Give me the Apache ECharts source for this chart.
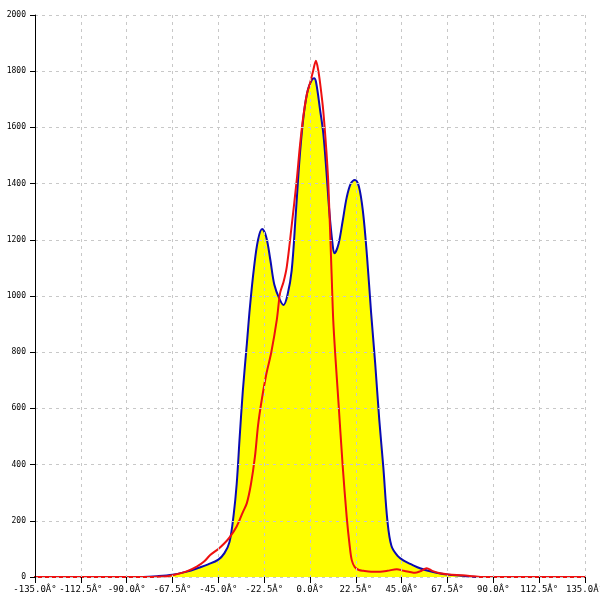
<!DOCTYPE html>
<html>
<head>
<meta charset="utf-8">
<script src="https://cdn.jsdelivr.net/npm/echarts@6/dist/echarts.min.js"></script>
<style>html,body{margin:0;padding:0;background:#fff}#c{width:600px;height:600px}</style>
</head>
<body>
<div id="c"></div>
<script>
// Tick labels (as printed in the reference, including the encoding artefact)
const xTickValues = [-135, -112.5, -90, -67.5, -45, -22.5, 0, 22.5, 45, 67.5, 90, 112.5, 135];
const xTickLabels = ["-135.0Â°", "-112.5Â°", "-90.0Â°", "-67.5Â°", "-45.0Â°", "-22.5Â°", "0.0Â°", "22.5Â°", "45.0Â°", "67.5Â°", "90.0Â°", "112.5Â°", "135.0Â°"];

// Blue (filled) series: angle in degrees, count
const blueAngles = [-85, -75, -67.5, -60, -55, -50, -45, -42, -39.5, -37.5, -36, -34.5, -33, -31, -29.5, -27.5, -25.5, -23.5, -21.5, -19.5, -17.5, -15, -13, -11, -9, -7, -5, -3, -1, 1, 2, 3, 5, 6.5, 8, 9.5, 11, 12, 14, 16, 18, 20, 22, 24, 26, 28, 30, 32, 34, 36, 38, 40, 43, 46, 50, 54, 58, 62, 66, 70, 75, 80, 84];
const blueValues = [0, 3, 8, 20, 32, 45, 62, 85, 125, 220, 330, 500, 660, 830, 960, 1100, 1200, 1238, 1210, 1130, 1040, 990, 968, 1005, 1090, 1290, 1500, 1650, 1735, 1770, 1775, 1760, 1660, 1580, 1450, 1300, 1190, 1152, 1185, 1265, 1350, 1400, 1413, 1390, 1300, 1140, 940, 760, 560, 390, 200, 110, 75, 58, 44, 31, 22, 15, 10, 7, 4, 1, 0];

// Red series: angle in degrees, count
const redAngles = [-153, -100, -85, -70, -67, -60, -55.6, -52, -49, -45, -42, -39.3, -36, -33, -31, -29, -27, -25.5, -23.7, -21.5, -19, -16.3, -14.7, -13, -11.4, -9, -6.5, -5, -3.3, -1.5, 0, 1.5, 2.9, 4, 5, 6.5, 8, 9, 10.6, 11.4, 12.5, 13.9, 16, 18, 19.5, 20.5, 22, 24, 26.2, 30, 34.4, 38, 42.6, 46, 49, 51.5, 54, 57.3, 60, 63.8, 68, 75, 80, 85, 143];
const redValues = [0, 0, 0, 3, 7, 22, 37, 55, 78, 100, 120, 143, 180, 230, 263, 330, 430, 540, 630, 720, 800, 915, 1010, 1050, 1104, 1250, 1413, 1530, 1638, 1720, 1757, 1800, 1837, 1805, 1755, 1660, 1520, 1400, 1080, 915, 780, 630, 400, 215, 110, 60, 35, 25, 22, 19, 19, 22, 28, 22, 18, 15, 20, 31, 22, 13, 9, 6, 3, 0, 0];

const pair = (xs, ys) => xs.map((x, i) => [x, ys[i]]);

const chart = echarts.init(document.getElementById('c'), null, {renderer: 'canvas'});
chart.setOption({
  animation: false,
  backgroundColor: '#ffffff',
  grid: {left: 35, right: 15, top: 15, bottom: 23, containLabel: false, outerBoundsMode: 'none'},
  xAxis: {
    type: 'value', min: -135, max: 135, interval: 22.5, z: 5,
    axisLine: {show: false},
    axisTick: {show: true, length: 6, lineStyle: {color: '#000', width: 1}},
    axisLabel: {
      margin: 8, color: '#000', fontFamily: 'DejaVu Sans Mono', fontSize: 9,
      hideOverlap: false,
      formatter: v => { const i = xTickValues.indexOf(v); return i >= 0 ? xTickLabels[i] : ''; }
    },
    splitLine: {show: true, lineStyle: {color: '#c8c8c8', type: [3, 4], width: 1}}
  },
  yAxis: {
    type: 'value', min: 0, max: 2000, interval: 200, z: 5,
    axisLine: {show: true, onZero: false, lineStyle: {color: '#000', width: 1}},
    axisTick: {show: true, length: 5, lineStyle: {color: '#000'}},
    axisLabel: {margin: 9, color: '#000', fontFamily: 'DejaVu Sans Mono', fontSize: 8, formatter: v => String(v)},
    splitLine: {show: true, lineStyle: {color: '#c8c8c8', type: [3, 4], width: 1}}
  },
  series: [
    {
      type: 'line', data: pair(blueAngles, blueValues), smooth: 0.35, symbol: 'none',
      lineStyle: {color: '#0a0ab4', width: 2},
      areaStyle: {color: '#ffff00', opacity: 1},
      z: 2
    },
    {
      type: 'line', data: pair(redAngles, redValues), smooth: 0.3, symbol: 'none',
      clip: false,
      lineStyle: {color: '#ee1010', width: 2},
      z: 3
    }
  ]
});
</script>
</body>
</html>
